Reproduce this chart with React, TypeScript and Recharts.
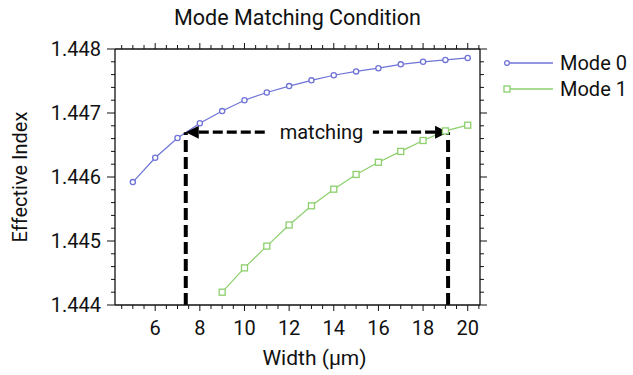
import React from "react";
import {
  LineChart,
  Line,
  XAxis,
  YAxis,
  ReferenceLine,
  ReferenceDot,
} from "recharts";

const WIDTHS_0 = [5, 6, 7, 8, 9, 10, 11, 12, 13, 14, 15, 16, 17, 18, 19, 20];
const MODE_0 = [
  1.44592, 1.4463, 1.44661, 1.44684, 1.44703, 1.4472, 1.44732, 1.44742,
  1.44751, 1.44759, 1.44765, 1.4477, 1.44776, 1.4478, 1.44783, 1.44786,
];
const WIDTHS_1 = [9, 10, 11, 12, 13, 14, 15, 16, 17, 18, 19, 20];
const MODE_1 = [
  1.4442, 1.44458, 1.44492, 1.44525, 1.44555, 1.44581, 1.44604, 1.44623,
  1.4464, 1.44657, 1.44672, 1.44681,
];

const X_TICKS = [
  4.5, 5, 5.5, 6, 6.5, 7, 7.5, 8, 8.5, 9, 9.5, 10, 10.5, 11, 11.5, 12, 12.5,
  13, 13.5, 14, 14.5, 15, 15.5, 16, 16.5, 17, 17.5, 18, 18.5, 19, 19.5, 20,
  20.5,
];
const X_LABELS = [6, 8, 10, 12, 14, 16, 18, 20];
const Y_TICKS = [
  1.444, 1.4442, 1.4444, 1.4446, 1.4448, 1.445, 1.4452, 1.4454, 1.4456,
  1.4458, 1.446, 1.4462, 1.4464, 1.4466, 1.4468, 1.447, 1.4472, 1.4474,
  1.4476, 1.4478, 1.448,
];
const Y_LABELS = [1.444, 1.445, 1.446, 1.447, 1.448];
const SERIES = ["Mode 0", "Mode 1"];

// matching annotation (in data units)
const MATCH_LEFT = 7.37;
const MATCH_RIGHT = 19.12;
const MATCH_Y = 1.4467;
const GAP_LEFT = 11.05;
const GAP_RIGHT = 15.75;
const MATCH_TEXT_X = 13.45;

const TITLE = "Mode Matching Condition";
const X_TITLE = "Width (\u03bcm)";
const Y_TITLE = "Effective Index";

const BLUE = "#6f73d6";
const GREEN = "#8ccf6c";
const INK = "#111";
const FONT = "Roboto, 'Noto Sans', sans-serif";

const rows = Array.from(new Set([...WIDTHS_0, ...WIDTHS_1]))
  .sort((a, b) => a - b)
  .map((w) => {
    const i0 = WIDTHS_0.indexOf(w);
    const i1 = WIDTHS_1.indexOf(w);
    return {
      width: w,
      mode0: i0 >= 0 ? MODE_0[i0] : undefined,
      mode1: i1 >= 0 ? MODE_1[i1] : undefined,
    };
  });

const near = (list: number[], v: number) =>
  list.some((m) => Math.abs(m - v) < 1e-9);

const BottomTick = (p: any) => {
  const v = p.payload.value;
  const major = near(X_LABELS, v);
  return (
    <g>
      <line x1={p.x} x2={p.x} y1={p.y} y2={p.y + (major ? 6 : 4)} stroke={INK} />
      {major && (
        <text x={p.x} y={p.y + 30} textAnchor="middle" fontSize={20} fill={INK} fontFamily={FONT}>
          {v}
        </text>
      )}
    </g>
  );
};

const TopTick = (p: any) => {
  const major = near(X_LABELS, p.payload.value);
  return <line x1={p.x} x2={p.x} y1={p.y} y2={p.y - (major ? 6 : 4)} stroke={INK} />;
};

const LeftTick = (p: any) => {
  const v = p.payload.value;
  const major = near(Y_LABELS, v);
  return (
    <g>
      <line x1={p.x} x2={p.x - (major ? 8 : 4)} y1={p.y} y2={p.y} stroke={INK} />
      {major && (
        <text x={p.x - 14} y={p.y + 7} textAnchor="end" fontSize={20} fill={INK} fontFamily={FONT}>
          {v.toFixed(3)}
        </text>
      )}
    </g>
  );
};

const RightTick = (p: any) => {
  const major = near(Y_LABELS, p.payload.value);
  return <line x1={p.x} x2={p.x + (major ? 7 : 4)} y1={p.y} y2={p.y} stroke={INK} />;
};

const CircleDot = (p: any) => {
  if (p.cx == null || p.cy == null || p.value == null) return <g key={p.key} />;
  return <circle key={p.key} cx={p.cx} cy={p.cy} r={2.6} fill="#fff" stroke={BLUE} strokeWidth={1.3} />;
};

const SquareDot = (p: any) => {
  if (p.cx == null || p.cy == null || p.value == null) return <g key={p.key} />;
  return (
    <rect key={p.key} x={p.cx - 3} y={p.cy - 3} width={6} height={6} fill="#fff" stroke={GREEN} strokeWidth={1.3} />
  );
};

// dashed line with a filled arrowhead at its first point
const ArrowLine = (p: any) => {
  const { x1, y1, x2, y2 } = p;
  const dx = x2 - x1;
  const dy = y2 - y1;
  const len = Math.sqrt(dx * dx + dy * dy) || 1;
  const ux = dx / len;
  const uy = dy / len;
  const head = 13;
  const half = 6.5;
  const bx = x1 + ux * head;
  const by = y1 + uy * head;
  return (
    <g>
      <line x1={bx} y1={by} x2={x2} y2={y2} stroke="#000" strokeWidth={3.3} strokeDasharray="10 4" />
      <polygon
        points={`${x1},${y1} ${bx - uy * half},${by + ux * half} ${bx + uy * half},${by - ux * half}`}
        fill="#000"
      />
    </g>
  );
};

function LegendBox() {
  const colors = [BLUE, GREEN];
  return (
    <div style={{ position: "absolute", left: 500, top: 50, fontFamily: FONT }}>
      {SERIES.map((name, i) => (
        <div key={name} style={{ display: "flex", alignItems: "center", height: 26 }}>
          <svg width={56} height={12} style={{ display: "block" }}>
            <line x1={5} x2={53} y1={6} y2={6} stroke={colors[i]} strokeWidth={1.3} />
            {i === 0 ? (
              <circle cx={7} cy={6} r={2.4} fill="#fff" stroke={colors[i]} strokeWidth={1.3} />
            ) : (
              <rect x={4} y={3} width={6} height={6} fill="#fff" stroke={colors[i]} strokeWidth={1.3} />
            )}
          </svg>
          <span style={{ fontSize: 20, color: INK, marginLeft: 4 }}>{name}</span>
        </div>
      ))}
    </div>
  );
}

export default function App() {
  return (
    <div style={{ position: "absolute", left: 0, top: 0, width: 633, height: 375, background: "#fff" }}>
      <LineChart
        width={633}
        height={375}
        data={rows}
        margin={{ top: 19, right: 143, left: 0, bottom: 0 }}
      >
        <XAxis
          dataKey="width"
          type="number"
          domain={[4.2, 20.55]}
          allowDataOverflow
          ticks={X_TICKS}
          interval={0}
          tickSize={0}
          tickMargin={0}
          tickLine={false}
          tick={<BottomTick />}
          axisLine={{ stroke: INK, strokeWidth: 1.3 }}
          height={70}
          label={{
            content: (lp: any) => {
              const vb = lp.viewBox;
              return (
                <text x={vb.x + vb.width / 2 + 17} y={365} textAnchor="middle" fontSize={21} fill={INK} fontFamily={FONT}>
                  {X_TITLE}
                </text>
              );
            },
          }}
        />
        <XAxis
          xAxisId="top"
          orientation="top"
          dataKey="width"
          type="number"
          domain={[4.2, 20.55]}
          allowDataOverflow
          ticks={X_TICKS}
          interval={0}
          tickSize={0}
          tickMargin={0}
          tickLine={false}
          tick={<TopTick />}
          axisLine={{ stroke: INK, strokeWidth: 1.3 }}
          height={30}
          label={{
            content: (lp: any) => {
              const vb = lp.viewBox;
              return (
                <text x={vb.x + vb.width / 2} y={25} textAnchor="middle" fontSize={21.5} fill={INK} fontFamily={FONT}>
                  {TITLE}
                </text>
              );
            },
          }}
        />
        <YAxis
          type="number"
          domain={[1.444, 1.448]}
          allowDataOverflow
          ticks={Y_TICKS}
          interval={0}
          tickSize={0}
          tickMargin={0}
          tickLine={false}
          tick={<LeftTick />}
          axisLine={{ stroke: INK, strokeWidth: 1.3 }}
          width={115}
          label={{
            content: (lp: any) => {
              const vb = lp.viewBox;
              const cx = vb.x + 27;
              const cy = vb.y + vb.height / 2;
              return (
                <text x={cx} y={cy} transform={`rotate(-90 ${cx} ${cy})`} textAnchor="middle" fontSize={20} fill={INK} fontFamily={FONT}>
                  {Y_TITLE}
                </text>
              );
            },
          }}
        />
        <YAxis
          yAxisId="right"
          orientation="right"
          type="number"
          domain={[1.444, 1.448]}
          allowDataOverflow
          ticks={Y_TICKS}
          interval={0}
          tickSize={0}
          tickMargin={0}
          tickLine={false}
          tick={<RightTick />}
          axisLine={{ stroke: INK, strokeWidth: 1.3 }}
          width={10}
        />
        <Line
          name={SERIES[0]}
          dataKey="mode0"
          stroke={BLUE}
          strokeWidth={1.2}
          type="linear"
          dot={<CircleDot />}
          isAnimationActive={false}
        />
        <Line
          name={SERIES[1]}
          dataKey="mode1"
          stroke={GREEN}
          strokeWidth={1.2}
          type="linear"
          dot={<SquareDot />}
          isAnimationActive={false}
        />
        <ReferenceLine
          segment={[{ x: MATCH_LEFT, y: 1.444 }, { x: MATCH_LEFT, y: MATCH_Y }]}
          stroke="#000"
          strokeWidth={4}
          strokeDasharray="12 5"
          ifOverflow="visible"
        />
        <ReferenceLine
          segment={[{ x: MATCH_RIGHT, y: 1.444 }, { x: MATCH_RIGHT, y: MATCH_Y }]}
          stroke="#000"
          strokeWidth={4}
          strokeDasharray="12 5"
          ifOverflow="visible"
        />
        <ReferenceLine
          segment={[{ x: MATCH_LEFT, y: MATCH_Y }, { x: GAP_LEFT, y: MATCH_Y }]}
          shape={<ArrowLine />}
          ifOverflow="visible"
        />
        <ReferenceLine
          segment={[{ x: MATCH_RIGHT, y: MATCH_Y }, { x: GAP_RIGHT, y: MATCH_Y }]}
          shape={<ArrowLine />}
          ifOverflow="visible"
        />
        <ReferenceDot
          x={MATCH_TEXT_X}
          y={MATCH_Y}
          r={0}
          stroke="none"
          fill="none"
          ifOverflow="visible"
          label={{ value: "matching", position: "center", fontSize: 20, fill: INK, fontFamily: FONT }}
        />
      </LineChart>
      <LegendBox />
    </div>
  );
}
